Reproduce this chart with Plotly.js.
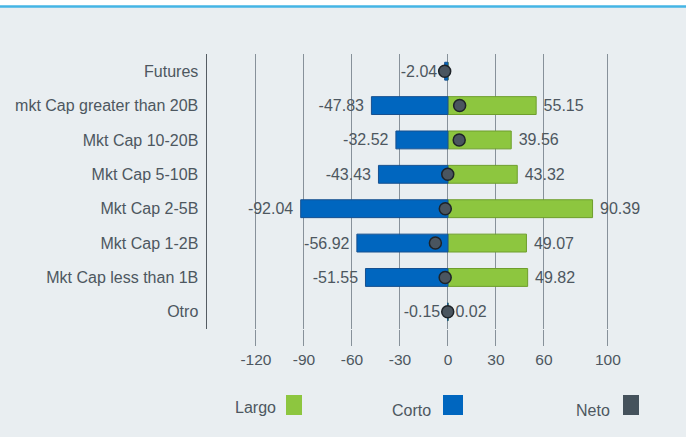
<!DOCTYPE html>
<html>
<head>
<meta charset="utf-8">
<script src="https://cdn.plot.ly/plotly-3.0.1.min.js"></script>
<style>html,body{margin:0;padding:0;background:#E9EEF1;}#chart{width:686px;height:437px;}</style>
</head>
<body>
<div id="chart"></div>
<script>
const categories = ["Futures","mkt Cap greater than 20B","Mkt Cap 10-20B","Mkt Cap 5-10B","Mkt Cap 2-5B","Mkt Cap 1-2B","Mkt Cap less than 1B","Otro"];
const largo = [0, 55.15, 39.56, 43.32, 90.39, 49.07, 49.82, 0.02];
const corto = [-2.04, -47.83, -32.52, -43.43, -92.04, -56.92, -51.55, -0.15];
const neto = [-2.04, 7.32, 7.04, -0.11, -1.65, -7.85, -1.73, -0.13];
const tickVals = [-120, -90, -60, -30, 0, 30, 60, 100];
const legendNames = ["Largo", "Corto", "Neto"];

const W = 686, H = 437, L = 207, R = 0, T = 54, B = 108;
const pw = W - L - R, ph = H - T - B;
const px = x => (x - L) / pw;
const py = y => (H - B - y) / ph;

const txtColor = '#4D5760';
const fam = 'Liberation Sans, Arial, sans-serif';
const catFont = {family: fam, size: 16, color: txtColor};
const valFont = {family: fam, size: 16, color: txtColor};
const tickFont = {family: fam, size: 15.5, color: txtColor};
const NB = '\u00A0';
const lbl = v => v === 0 ? '' : (v > 0 ? NB + v.toFixed(2) : v.toFixed(2) + NB);

const traces = [
  {type: 'bar', orientation: 'h', y: categories, x: largo, name: legendNames[0],
   marker: {color: '#8DC63F', line: {color: '#6E9E2C', width: 1}},
   text: largo.map(lbl), textposition: 'outside', cliponaxis: false,
   textfont: valFont, hoverinfo: 'x+y'},
  {type: 'bar', orientation: 'h', y: categories, x: corto, name: legendNames[1],
   marker: {color: '#0066BF', line: {color: '#17508F', width: 1}},
   text: corto.map(lbl), textposition: 'outside', cliponaxis: false,
   textfont: valFont, hoverinfo: 'x+y'},
  {type: 'scatter', mode: 'markers', y: categories, x: neto, name: legendNames[2],
   marker: {color: '#4A555F', size: 12, line: {color: '#1E2328', width: 1.5}},
   cliponaxis: false, hoverinfo: 'x+y'}
];

const legendItems = [
  {name: legendNames[0], color: '#8DC63F', tx: 278, ty: 407, sx0: 286, sx1: 302},
  {name: legendNames[1], color: '#0066BF', tx: 433, ty: 410, sx0: 443, sx1: 463},
  {name: legendNames[2], color: '#45525C', tx: 612, ty: 410, sx0: 623, sx1: 639}
];

const shapes = [
  {type: 'rect', xref: 'paper', yref: 'paper', x0: px(0), x1: px(W), y0: py(6), y1: py(0),
   fillcolor: '#FFFFFF', line: {width: 0}, layer: 'below'},
  {type: 'line', xref: 'paper', yref: 'paper', x0: px(0), x1: px(W), y0: py(6.5), y1: py(6.5),
   line: {color: '#45B5E5', width: 2.5}}
];
const annotations = [];
legendItems.forEach(it => {
  shapes.push({type: 'rect', xref: 'paper', yref: 'paper', x0: px(it.sx0), x1: px(it.sx1),
    y0: py(415), y1: py(395), fillcolor: it.color, line: {width: 0}});
  annotations.push({xref: 'paper', yref: 'paper', x: px(it.tx), y: py(it.ty), text: it.name,
    showarrow: false, xanchor: 'right', yanchor: 'middle', font: catFont});
});

const layout = {
  width: W, height: H,
  margin: {l: L, r: R, t: T, b: B, pad: 0},
  paper_bgcolor: '#E9EEF1', plot_bgcolor: '#E9EEF1',
  barmode: 'overlay', bargap: 0.48,
  showlegend: false,
  font: catFont,
  xaxis: {range: [-150.6, 148.8], tickvals: tickVals, ticktext: tickVals.map(String),
    showgrid: true, gridcolor: '#87919A', gridwidth: 1,
    zeroline: true, zerolinecolor: '#87919A', zerolinewidth: 1,
    ticks: 'outside', ticklen: 16, tickcolor: '#87919A', tickwidth: 1,
    showline: false, tickfont: tickFont, fixedrange: true, automargin: false},
  yaxis: {type: 'category', categoryorder: 'array', categoryarray: categories,
    range: [categories.length - 0.5, -0.5], showgrid: false, zeroline: false,
    showline: true, linecolor: '#555C63', linewidth: 1.5, ticks: '',
    ticklabelstandoff: 4, tickfont: catFont, fixedrange: true, automargin: false},
  shapes: shapes, annotations: annotations
};

Plotly.newPlot('chart', traces, layout, {displayModeBar: false, staticPlot: true});
</script>
</body>
</html>
